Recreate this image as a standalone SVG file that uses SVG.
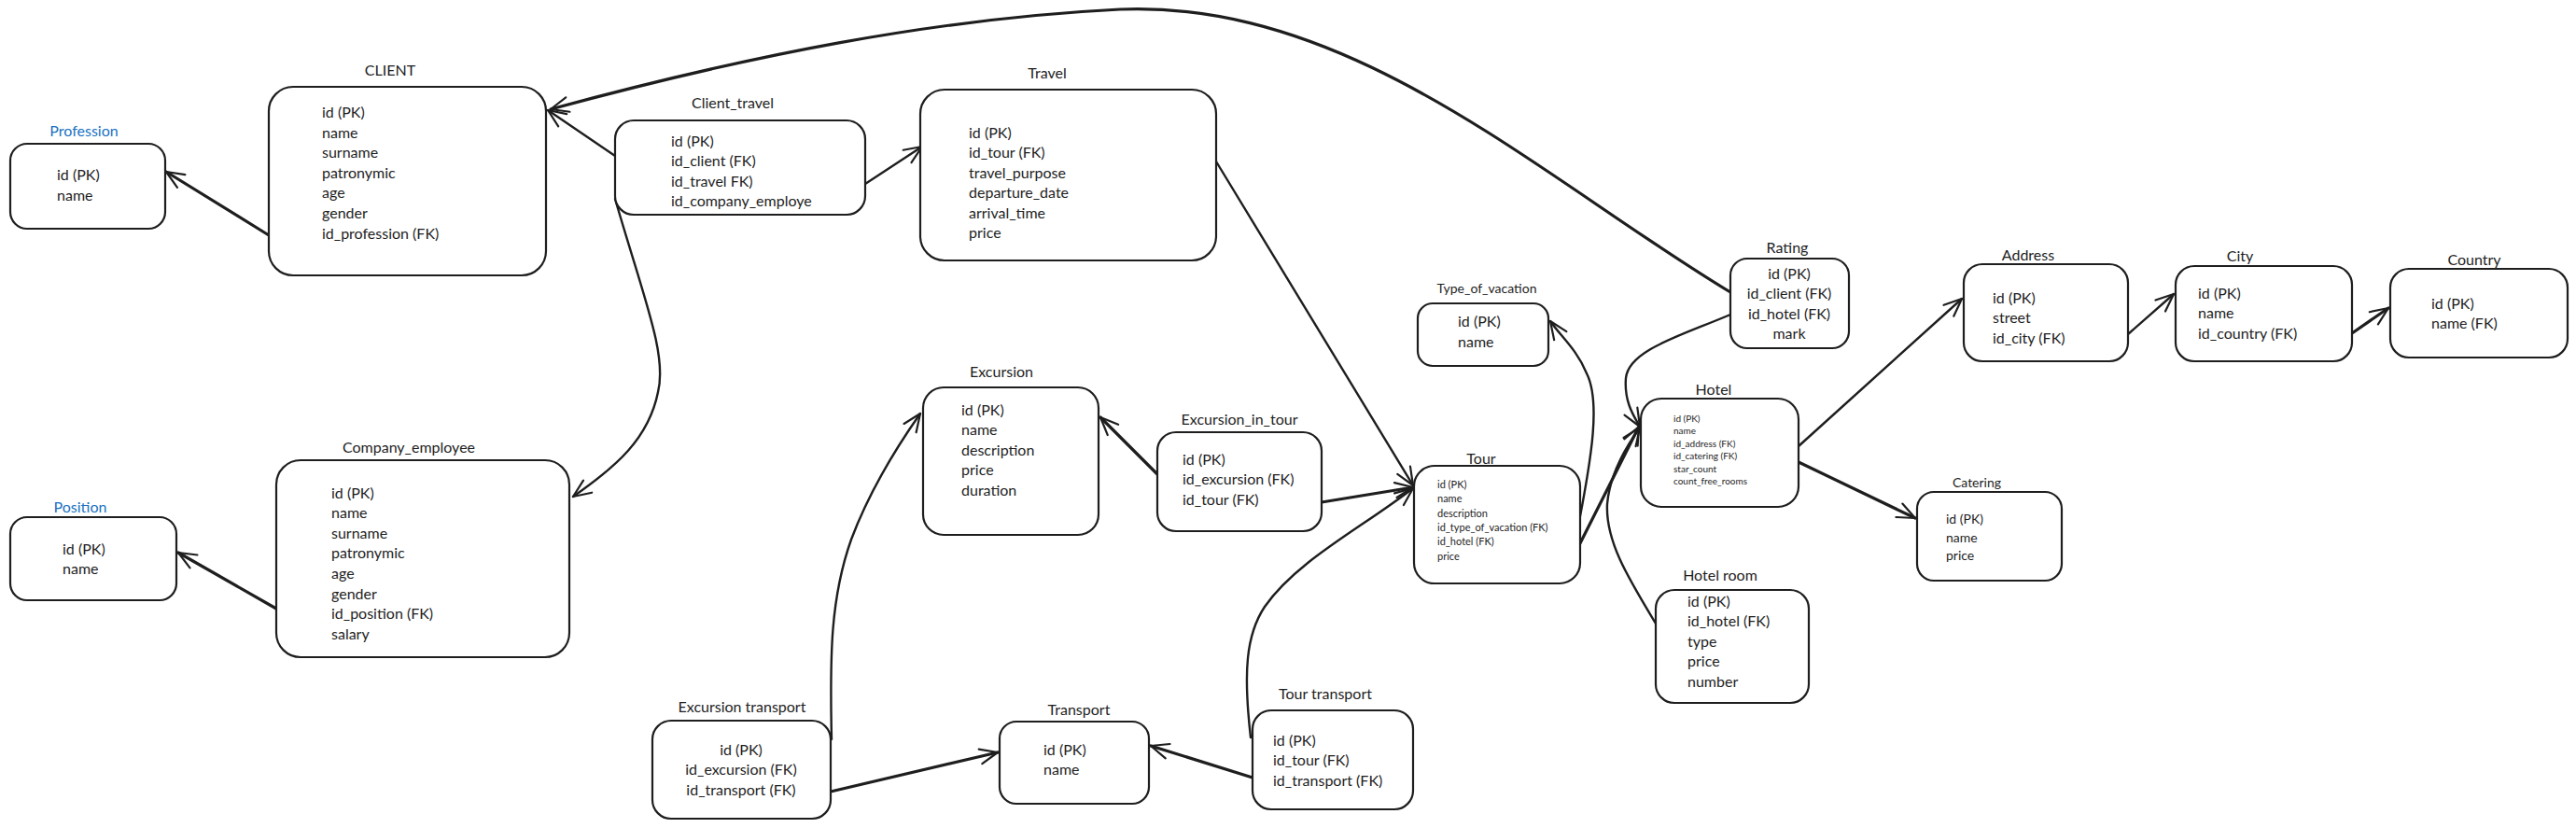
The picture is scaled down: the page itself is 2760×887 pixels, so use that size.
<svg xmlns="http://www.w3.org/2000/svg" width="2760" height="887" viewBox="0 0 2760 887">
<defs>
<style>
.box{fill:#ffffff;stroke:#1e1e1e;stroke-width:2.2}
.t{font-family:Lato,"Noto Sans",sans-serif;font-size:16px;fill:#1e1e1e}
.ti{font-family:Lato,"Noto Sans",sans-serif;font-size:16px;fill:#1e1e1e;text-anchor:middle}
.blue{fill:#1971c2}
.s11{font-size:11px}
.s10{font-size:10px}
.s14{font-size:14px}
.mid{text-anchor:middle}
.c{fill:none;stroke:#1e1e1e;stroke-width:2.4;stroke-linecap:round;stroke-linejoin:round;marker-end:url(#arr)}
.th{stroke-width:3.2}
.tn{stroke-width:1.8}
</style>
<marker id="arr" viewBox="-22 -11 24 22" refX="0" refY="0" markerWidth="24" markerHeight="22" markerUnits="userSpaceOnUse" orient="auto" overflow="visible">
<path d="M-19,-8 L0,0 L-19,8" fill="none" stroke="#1e1e1e" stroke-width="2.2" stroke-linecap="round" stroke-linejoin="round"/>
</marker>
</defs>
<rect width="2760" height="887" fill="#ffffff"/>

<g id="connectors">
<path class="c th" d="M288,252 L178,184"/>
<path class="c" d="M659,167 L587,118"/>
<path class="c th" d="M1854,313 C1650,190 1450,0 1200,10 C1000,20 800,60 590,117"/>
<path class="c" d="M927,197 L988,157"/>
<path class="c" d="M659,213 C690,320 715,380 705,420 C695,470 660,500 614,532"/>
<path class="c th" d="M296,652 L191,592"/>
<path class="c" d="M1303,173 L1514,520"/>
<path class="c th" d="M1240,508 L1179,447"/>
<path class="c th" d="M1416,538 L1514,522"/>
<path class="c" d="M891,792 C889,700 890,640 912,578 C930,530 960,480 986,443"/>
<path class="c th" d="M890,848 L1069,806"/>
<path class="c th" d="M1342,833 L1233,799"/>
<path class="c" d="M1340,790 C1332,720 1335,680 1355,650 C1390,600 1460,565 1514,523"/>
<path class="c" d="M1693,553 C1705,490 1715,430 1700,400 C1690,375 1672,360 1661,344"/>
<path class="c th" d="M1693,582 L1756,457"/>
<path class="c" d="M1854,337 C1800,360 1745,375 1742,405 C1740,430 1750,445 1757,457"/>
<path class="c" d="M1774,668 C1745,620 1720,580 1722,540 C1725,505 1745,475 1757,458"/>
<path class="c" d="M1927,478 L2102,320"/>
<path class="c th" d="M1927,495 L2052,555"/>
<path class="c" d="M2280,358 L2329,315"/>
<path class="c th" d="M2520,357 L2559,330"/>
</g>

<g id="profession">
<rect class="box" x="11" y="154" width="166" height="91" rx="18"/>
<text class="ti blue" x="90" y="146">Profession</text>
<text class="t" x="61" y="192.5">id (PK)</text>
<text class="t" x="61" y="214.5">name</text>
</g>

<g id="client">
<rect class="box" x="288" y="93" width="297" height="202" rx="26"/>
<text class="ti" x="418" y="81">CLIENT</text>
<text class="t" x="345" y="126">id (PK)</text>
<text class="t" x="345" y="147.6">name</text>
<text class="t" x="345" y="169.2">surname</text>
<text class="t" x="345" y="190.8">patronymic</text>
<text class="t" x="345" y="212.4">age</text>
<text class="t" x="345" y="234">gender</text>
<text class="t" x="345" y="255.6">id_profession (FK)</text>
</g>

<g id="client_travel">
<rect class="box" x="659" y="129" width="268" height="101" rx="20"/>
<text class="ti" x="785" y="115.5">Client_travel</text>
<text class="t" x="719" y="156.5">id (PK)</text>
<text class="t" x="719" y="178">id_client (FK)</text>
<text class="t" x="719" y="199.5">id_travel FK)</text>
<text class="t" x="719" y="221">id_company_employe</text>
</g>

<g id="travel">
<rect class="box" x="986" y="96" width="317" height="183" rx="26"/>
<text class="ti" x="1122" y="83.5">Travel</text>
<text class="t" x="1038" y="147.5">id (PK)</text>
<text class="t" x="1038" y="169">id_tour (FK)</text>
<text class="t" x="1038" y="190.6">travel_purpose</text>
<text class="t" x="1038" y="212.2">departure_date</text>
<text class="t" x="1038" y="233.8">arrival_time</text>
<text class="t" x="1038" y="255.4">price</text>
</g>

<g id="type_of_vacation">
<rect class="box" x="1519" y="325" width="140" height="67" rx="16"/>
<text class="ti s14" x="1593" y="314">Type_of_vacation</text>
<text class="t" x="1562" y="349.5">id (PK)</text>
<text class="t" x="1562" y="371.5">name</text>
</g>

<g id="tour">
<rect class="box" x="1515" y="499" width="178" height="126" rx="22"/>
<text class="ti" x="1587" y="496.5">Tour</text>
<text class="t s11" x="1540" y="523">id (PK)</text>
<text class="t s11" x="1540" y="538.3">name</text>
<text class="t s11" x="1540" y="553.6">description</text>
<text class="t s11" x="1540" y="569">id_type_of_vacation (FK)</text>
<text class="t s11" x="1540" y="584.3">id_hotel (FK)</text>
<text class="t s11" x="1540" y="599.6">price</text>
</g>

<g id="hotel">
<rect class="box" x="1758" y="427" width="169" height="116" rx="22"/>
<text class="ti" x="1836" y="422.5">Hotel</text>
<text class="t s10" x="1793" y="451.5">id (PK)</text>
<text class="t s10" x="1793" y="465">name</text>
<text class="t s10" x="1793" y="478.5">id_address (FK)</text>
<text class="t s10" x="1793" y="492">id_catering (FK)</text>
<text class="t s10" x="1793" y="505.5">star_count</text>
<text class="t s10" x="1793" y="519">count_free_rooms</text>
</g>

<g id="rating">
<rect class="box" x="1854" y="277" width="127" height="96" rx="18"/>
<text class="ti" x="1915" y="270.5">Rating</text>
<text class="t mid" x="1917" y="298.5">id (PK)</text>
<text class="t mid" x="1917" y="320">id_client (FK)</text>
<text class="t mid" x="1917" y="341.6">id_hotel (FK)</text>
<text class="t mid" x="1917" y="363.2">mark</text>
</g>

<g id="hotel_room">
<rect class="box" x="1774" y="632" width="164" height="121" rx="20"/>
<text class="ti" x="1843" y="621.5">Hotel room</text>
<text class="t" x="1808" y="649.5">id (PK)</text>
<text class="t" x="1808" y="671">id_hotel (FK)</text>
<text class="t" x="1808" y="692.6">type</text>
<text class="t" x="1808" y="714.2">price</text>
<text class="t" x="1808" y="735.8">number</text>
</g>

<g id="address">
<rect class="box" x="2104" y="283" width="176" height="104" rx="20"/>
<text class="ti" x="2173" y="278.5">Address</text>
<text class="t" x="2135" y="324.5">id (PK)</text>
<text class="t" x="2135" y="346">street</text>
<text class="t" x="2135" y="367.6">id_city (FK)</text>
</g>

<g id="city">
<rect class="box" x="2331" y="285" width="189" height="102" rx="20"/>
<text class="ti" x="2400" y="279.5">City</text>
<text class="t" x="2355" y="319.5">id (PK)</text>
<text class="t" x="2355" y="341">name</text>
<text class="t" x="2355" y="362.6">id_country (FK)</text>
</g>

<g id="country">
<rect class="box" x="2561" y="288" width="190" height="95" rx="20"/>
<text class="ti" x="2651" y="283.5">Country</text>
<text class="t" x="2605" y="330.5">id (PK)</text>
<text class="t" x="2605" y="352">name (FK)</text>
</g>

<g id="catering">
<rect class="box" x="2054" y="527" width="155" height="95" rx="18"/>
<text class="ti s14" x="2118" y="521.5">Catering</text>
<text class="t s14" x="2085" y="561">id (PK)</text>
<text class="t s14" x="2085" y="580.5">name</text>
<text class="t s14" x="2085" y="600">price</text>
</g>

<g id="position">
<rect class="box" x="11" y="554" width="178" height="89" rx="18"/>
<text class="ti blue" x="86" y="548.5">Position</text>
<text class="t" x="67" y="593.5">id (PK)</text>
<text class="t" x="67" y="614.5">name</text>
</g>

<g id="company_employee">
<rect class="box" x="296" y="493" width="314" height="211" rx="26"/>
<text class="ti" x="438" y="484.5">Company_employee</text>
<text class="t" x="355" y="533.5">id (PK)</text>
<text class="t" x="355" y="555.1">name</text>
<text class="t" x="355" y="576.7">surname</text>
<text class="t" x="355" y="598.3">patronymic</text>
<text class="t" x="355" y="619.9">age</text>
<text class="t" x="355" y="641.5">gender</text>
<text class="t" x="355" y="663.1">id_position (FK)</text>
<text class="t" x="355" y="684.7">salary</text>
</g>

<g id="excursion">
<rect class="box" x="989" y="415" width="188" height="158" rx="22"/>
<text class="ti" x="1073" y="403.5">Excursion</text>
<text class="t" x="1030" y="444.5">id (PK)</text>
<text class="t" x="1030" y="466">name</text>
<text class="t" x="1030" y="487.6">description</text>
<text class="t" x="1030" y="509.2">price</text>
<text class="t" x="1030" y="530.8">duration</text>
</g>

<g id="excursion_in_tour">
<rect class="box" x="1240" y="463" width="176" height="106" rx="20"/>
<text class="ti" x="1328" y="454.5">Excursion_in_tour</text>
<text class="t" x="1267" y="497.5">id (PK)</text>
<text class="t" x="1267" y="519">id_excursion (FK)</text>
<text class="t" x="1267" y="540.6">id_tour (FK)</text>
</g>

<g id="excursion_transport">
<rect class="box" x="699" y="772" width="191" height="105" rx="20"/>
<text class="ti" x="795" y="762.5">Excursion transport</text>
<text class="t mid" x="794" y="808.5">id (PK)</text>
<text class="t mid" x="794" y="830">id_excursion (FK)</text>
<text class="t mid" x="794" y="851.6">id_transport (FK)</text>
</g>

<g id="transport">
<rect class="box" x="1071" y="773" width="160" height="88" rx="18"/>
<text class="ti" x="1156" y="765.5">Transport</text>
<text class="t" x="1118" y="808.5">id (PK)</text>
<text class="t" x="1118" y="830">name</text>
</g>

<g id="tour_transport">
<rect class="box" x="1342" y="761" width="172" height="106" rx="20"/>
<text class="ti" x="1420" y="748.5">Tour transport</text>
<text class="t" x="1364" y="798.5">id (PK)</text>
<text class="t" x="1364" y="820">id_tour (FK)</text>
<text class="t" x="1364" y="841.6">id_transport (FK)</text>
</g>
</svg>
